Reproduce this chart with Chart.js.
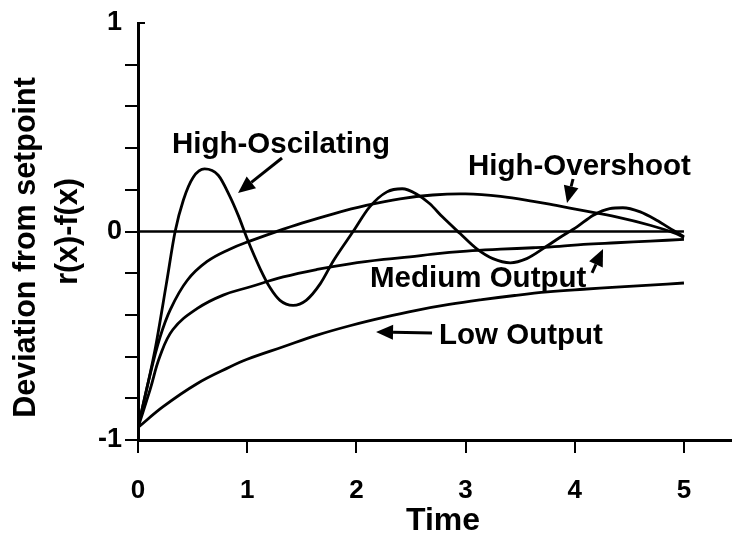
<!DOCTYPE html>
<html><head><meta charset="utf-8">
<script src="https://cdn.jsdelivr.net/npm/chart.js@4/dist/chart.umd.min.js"></script>
<style>html,body{margin:0;padding:0;background:#fff;overflow:hidden}#wrap{width:732px;height:533px}</style>
</head><body><div id="wrap"><canvas id="c" width="732" height="533"></canvas></div>
<script>
// ---- data ----
const highOscTime   = [0, 0.155, 0.26, 0.34, 0.415, 0.506, 0.61, 0.735, 0.84, 0.92, 1.0, 1.12, 1.21, 1.30, 1.42, 1.54, 1.67, 1.79, 1.97, 2.12, 2.28, 2.42, 2.55, 2.67, 2.79, 2.95, 3.10, 3.25, 3.41, 3.56, 3.71, 3.86, 4.02, 4.17, 4.32, 4.44, 4.60, 4.75, 4.90, 5.0];
const highOscValues = [-0.94, -0.57, -0.25, 0.0, 0.15, 0.26, 0.30, 0.27, 0.17, 0.075, -0.035, -0.18, -0.27, -0.33, -0.354, -0.33, -0.25, -0.14, 0.0, 0.117, 0.19, 0.205, 0.18, 0.134, 0.069, -0.01, -0.082, -0.13, -0.15, -0.13, -0.082, -0.03, 0.022, 0.078, 0.11, 0.114, 0.094, 0.054, 0.006, -0.025];

const overshootTime   = [0, 0.1, 0.2, 0.3, 0.45, 0.63, 0.84, 1.03, 1.27, 1.5, 1.79, 2.09, 2.40, 2.70, 3.0, 3.32, 3.62, 3.83, 4.08, 4.38, 4.69, 4.93, 5.0];
const overshootValues = [-0.94, -0.71, -0.51, -0.37, -0.235, -0.145, -0.085, -0.045, 0.0, 0.04, 0.085, 0.125, 0.157, 0.175, 0.18, 0.168, 0.145, 0.125, 0.10, 0.07, 0.03, -0.01, -0.03];

const mediumTime   = [0, 0.11, 0.2, 0.32, 0.54, 0.78, 1.03, 1.33, 1.64, 1.94, 2.25, 2.49, 2.70, 3.01, 3.32, 3.62, 3.86, 4.08, 4.38, 4.69, 5.0];
const mediumValues = [-0.94, -0.76, -0.60, -0.47, -0.37, -0.305, -0.265, -0.218, -0.182, -0.155, -0.134, -0.122, -0.108, -0.094, -0.085, -0.078, -0.071, -0.062, -0.054, -0.046, -0.038];

const lowTime   = [0, 0.23, 0.54, 0.84, 1.0, 1.33, 1.64, 1.94, 2.25, 2.55, 2.85, 3.15, 3.45, 3.75, 4.08, 4.38, 4.69, 5.0];
const lowValues = [-0.94, -0.84, -0.73, -0.65, -0.613, -0.553, -0.497, -0.452, -0.412, -0.378, -0.35, -0.327, -0.307, -0.29, -0.277, -0.267, -0.257, -0.247];

const setpointTime   = [0, 5];
const setpointValues = [0, 0];

const xTickLabels = ['0', '1', '2', '3', '4', '5'];
const yTickLabels = {'-1': '-1', '0': '0', '1': '1'};

const seriesNames = ['High-Oscilating', 'High-Overshoot', 'Medium Output', 'Low Output'];
const xTitle = 'Time';
const yTitleLines = ['Deviation from setpoint', 'r(x)-f(x)'];

// annotation text + arrows, anchored in data coordinates
const labelAnchors = [
  {text: seriesNames[0], x: 0.311, y: 0.3765, from: [1.319, 0.3525], to: [0.916, 0.1847]},
  {text: seriesNames[1], x: 3.022, y: 0.271,  from: [3.984, 0.2518], to: [3.929, 0.1367]},
  {text: seriesNames[2], x: 2.125, y: -0.266, from: [4.158, -0.199], to: [4.259, -0.084]},
  {text: seriesNames[3], x: 2.757, y: -0.5396, from: [2.693, -0.487], to: [2.180, -0.482]}
];

// ---- build ----
const FONT = '"Liberation Sans", Arial, Helvetica, sans-serif';
function pts(xs, ys) { return xs.map((x, i) => ({x: x, y: ys[i]})); }
function curve(label, xs, ys, monotone) {
  const d = {label: label, data: pts(xs, ys), borderColor: '#000', borderWidth: 2.8,
          pointRadius: 0, fill: false, tension: 0.4};
  if (monotone) d.cubicInterpolationMode = 'monotone';
  return d;
}

const annotatePlugin = {
  id: 'annotate',
  afterDraw(chart) {
    const ctx = chart.ctx, xs = chart.scales.x, ys = chart.scales.y, ca = chart.chartArea;
    ctx.save();
    ctx.fillStyle = '#000'; ctx.strokeStyle = '#000';
    ctx.lineWidth = 2;
    const y1 = ys.getPixelForValue(1);
    ctx.beginPath(); ctx.moveTo(ca.left, y1); ctx.lineTo(ca.left + 7, y1); ctx.stroke();
    ctx.font = 'bold 29.5px ' + FONT;
    ctx.textAlign = 'left'; ctx.textBaseline = 'alphabetic';
    labelAnchors.forEach(a => {
      ctx.fillText(a.text, xs.getPixelForValue(a.x), ys.getPixelForValue(a.y));
      const x0 = xs.getPixelForValue(a.from[0]), y0 = ys.getPixelForValue(a.from[1]);
      const x1 = xs.getPixelForValue(a.to[0]), y1p = ys.getPixelForValue(a.to[1]);
      const ang = Math.atan2(y1p - y0, x1 - x0);
      const hl = 17, hw = 7.5;
      const bx = x1 - hl * Math.cos(ang), by = y1p - hl * Math.sin(ang);
      ctx.lineWidth = 3;
      ctx.beginPath(); ctx.moveTo(x0, y0); ctx.lineTo(bx, by); ctx.stroke();
      ctx.beginPath();
      ctx.moveTo(x1, y1p);
      ctx.lineTo(bx + hw * Math.sin(ang), by - hw * Math.cos(ang));
      ctx.lineTo(bx - hw * Math.sin(ang), by + hw * Math.cos(ang));
      ctx.closePath(); ctx.fill();
    });
    ctx.textAlign = 'center';
    ctx.font = 'bold 32px ' + FONT;
    ctx.fillText(xTitle, 443, 529.5);
    ctx.font = 'bold 30.5px ' + FONT;
    ctx.save(); ctx.translate(35, 247.5); ctx.rotate(-Math.PI / 2);
    ctx.fillText(yTitleLines[0], 0, 0); ctx.restore();
    ctx.save(); ctx.translate(77, 231.5); ctx.rotate(-Math.PI / 2);
    ctx.fillText(yTitleLines[1], 0, 0); ctx.restore();
    ctx.restore();
  }
};

new Chart(document.getElementById('c'), {
  type: 'line',
  data: {
    datasets: [
      {label: 'setpoint', data: pts(setpointTime, setpointValues), borderColor: '#000', borderWidth: 2.4, pointRadius: 0, fill: false},
      curve(seriesNames[0], highOscTime, highOscValues, true),
      curve(seriesNames[1], overshootTime, overshootValues, false),
      curve(seriesNames[2], mediumTime, mediumValues, false),
      curve(seriesNames[3], lowTime, lowValues, false)
    ]
  },
  options: {
    responsive: false, animation: false, devicePixelRatio: 1,
    layout: {padding: {top: 23, right: 0, left: 0, bottom: 0}},
    plugins: {legend: {display: false}, tooltip: {enabled: false}},
    scales: {
      x: {
        type: 'linear', min: 0, max: 5.44,
        afterFit: s => { s.height = 93; },
        border: {display: true, color: '#000', width: 3},
        grid: {drawOnChartArea: false, drawTicks: true, tickLength: 13, color: '#000', lineWidth: 2},
        ticks: {stepSize: 1, includeBounds: false, color: '#000', padding: 22,
                font: {family: FONT, size: 26, weight: 'bold'},
                callback: v => { const l = xTickLabels[Math.round(v)]; return Math.abs(v - Math.round(v)) < 1e-6 && l !== undefined ? l : ''; }}
      },
      y: {
        type: 'linear', min: -1, max: 1,
        afterFit: s => { s.width = 138; },
        border: {display: true, color: '#000', width: 3},
        grid: {drawOnChartArea: false, drawTicks: true, tickLength: 13, lineWidth: 2,
               color: c => (c.tick && Math.abs(c.tick.value - 1) < 1e-6) ? 'rgba(0,0,0,0)' : '#000'},
        ticks: {stepSize: 0.2, color: '#000', padding: 3,
                font: {family: FONT, size: 27, weight: 'bold'},
                callback: v => { const r = Math.round(v); return Math.abs(v - r) < 1e-6 ? (yTickLabels[String(r)] || '') : ''; }}
      }
    }
  },
  plugins: [annotatePlugin]
});
</script></body></html>
